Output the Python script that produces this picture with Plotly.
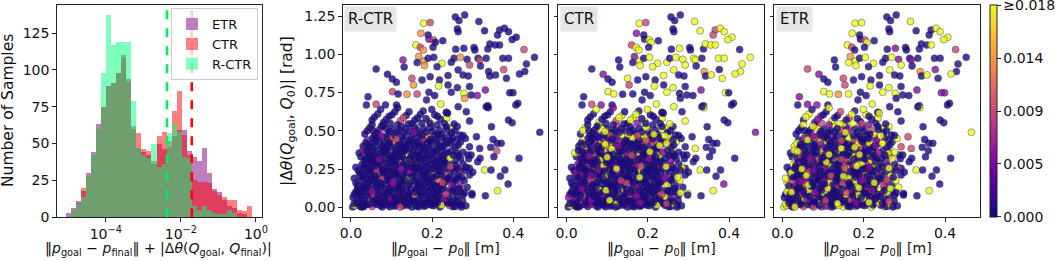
import numpy as np
import plotly.graph_objects as go

# ---------------- histogram data (log10 bins) ----------------
log_bin_lo, log_bin_hi, n_bins = -5.08, -0.10, 37
counts_etr = [3, 6, 11, 18, 30, 44, 63, 75, 89, 91, 98, 110, 94,
              60, 47, 44, 42, 36, 50, 46, 48, 55, 59, 59, 45,
              41, 38, 47, 30, 19, 17, 12, 8, 6, 3, 2, 0]
counts_ctr = [1, 5, 10, 20, 28, 42, 60, 75, 89, 91, 98, 108, 92,
              62, 57, 46, 45, 38, 55, 58, 52, 72, 86, 56, 42,
              25, 24, 24, 23, 18, 15, 14, 12, 12, 5, 4, 8]
counts_rctr = [1, 5, 9, 14, 28, 43, 60, 98, 137, 117, 119, 119, 119,
               79, 47, 42, 40, 50, 34, 36, 57, 63, 58, 41, 40,
               8, 5, 8, 5, 3, 2, 2, 5, 3, 0, 0, 0]
threshold_rctr = 0.00427
threshold_ctr = 0.0195

# ---------------- scatter data: (||p_goal - p0|| [m], |dtheta| [rad]) ----------------
points_upper = [
    (.257, 1.244), (.266, 1.220), (.280, 1.257), (.179, 1.203), (.195, 1.207),
    (.315, 1.214), (.262, 1.166), (.264, 1.148), (.329, 1.153), (.366, 1.159),
    (.378, 1.170), (.388, 1.148), (.361, 1.126), (.407, 1.111), (.397, 1.096),
    (.172, 1.137), (.190, 1.126), (.192, 1.098), (.203, 1.094), (.208, 1.078),
    (.226, 1.089), (.160, 1.061), (.171, 1.046), (.178, 1.028), (.202, 1.046),
    (.258, 1.033), (.278, 1.039), (.303, 1.044), (.305, 1.028), (.337, 1.035),
    (.342, 1.068), (.355, 1.061), (.366, 1.061), (.426, 1.031), (.128, .963),
    (.131, .917), (.062, .904), (.167, .985), (.180, .956), (.181, .926),
    (.163, .946), (.190, .974), (.204, .980), (.224, .941), (.212, .919),
    (.247, .948), (.254, .974), (.269, .980), (.286, .967), (.292, .930),
    (.313, .974), (.317, .963), (.319, .924), (.333, .974), (.374, .974),
    (.388, .974), (.376, .900), (.432, .937), (.452, .980), (.428, .887),
    (.415, .871), (.264, .898), (.276, .865), (.289, .858), (.239, .861),
    (.339, .887), (.342, .858), (.356, .865), (.383, .843), (.090, .869),
    (.102, .839), (.112, .817), (.150, .843), (.154, .800), (.175, .832),
    (.195, .854), (.218, .832), (.216, .793), (.239, .800), (.247, .752),
    (.262, .782), (.278, .745), (.280, .712), (.292, .789), (.296, .734),
    (.311, .730), (.331, .767), (.391, .749), (.399, .749), (.411, .680),
    (.406, .669), (.337, .664), (.042, .723), (.038, .669), (.062, .673),
    (.102, .756), (.116, .741), (.138, .739), (.163, .741), (.192, .752),
    (.206, .730), (.221, .675), (.235, .621), (.186, .702), (.112, .669),
    (.085, .669),
]
points_right = [
    (.465, .490), (.388, .570), (.397, .553), (.346, .527), (.338, .651),
    (.350, .444), (.360, .418), (.370, .418), (.359, .370), (.352, .331),
    (.414, .320), (.344, .392), (.317, .385), (.318, .320), (.312, .298),
    (.329, .244), (.345, .244), (.368, .204), (.379, .244), (.387, .152),
    (.361, .109), (.331, .076), (.292, .396), (.296, .342), (.288, .342),
    (.261, .359), (.292, .255), (.298, .091), (.276, .080), (.271, .015),
    (.251, .004), (.255, .048), (.247, .516), (.235, .581), (.235, .620),
    (.284, .625), (.292, .564), (.268, .473), (.309, .462), (.333, .658),
    (.264, .658),
]
points_dense = [
    # y ~ 0.00-0.06
    (.004, .003), (.010, .012), (.014, .040), (.022, .008), (.028, .030), (.036, .015),
    (.044, .050), (.052, .005), (.058, .028), (.066, .042), (.073, .012), (.081, .020),
    (.089, .048), (.096, .004), (.104, .031), (.112, .016), (.119, .055), (.127, .009),
    (.134, .038), (.142, .022), (.150, .003), (.157, .045), (.165, .018), (.172, .033),
    (.180, .007), (.188, .052), (.195, .026), (.203, .011), (.211, .040), (.219, .002),
    (.226, .029), (.234, .047), (.242, .014), (.249, .036), (.257, .006), (.266, .021),
    (.275, .043), (.283, .010),
    # y ~ 0.06-0.14
    (.008, .085), (.016, .120), (.025, .070), (.031, .135), (.039, .095), (.047, .112),
    (.054, .064), (.061, .128), (.069, .090), (.076, .074), (.084, .118), (.091, .100),
    (.099, .067), (.106, .134), (.114, .082), (.121, .108), (.129, .071), (.137, .125),
    (.144, .093), (.152, .062), (.160, .114), (.167, .086), (.175, .131), (.183, .069),
    (.190, .103), (.198, .124), (.206, .077), (.213, .096), (.221, .138), (.229, .066),
    (.237, .110), (.245, .088), (.253, .127), (.262, .072), (.270, .105), (.286, .132),
    (.298, .080),
    # y ~ 0.14-0.22
    (.012, .160), (.021, .205), (.030, .145), (.038, .185), (.046, .215), (.053, .152),
    (.060, .196), (.068, .170), (.075, .142), (.083, .210), (.090, .178), (.098, .155),
    (.105, .200), (.113, .148), (.120, .188), (.128, .166), (.136, .214), (.143, .150),
    (.151, .192), (.158, .172), (.166, .143), (.173, .207), (.181, .158), (.189, .185),
    (.196, .146), (.204, .218), (.212, .168), (.220, .195), (.228, .151), (.236, .183),
    (.244, .208), (.252, .162), (.261, .190), (.269, .147), (.279, .176), (.292, .212),
    # y ~ 0.22-0.30
    (.018, .240), (.027, .280), (.035, .228), (.043, .262), (.050, .295), (.058, .235),
    (.065, .270), (.072, .248), (.080, .225), (.087, .290), (.095, .255), (.102, .232),
    (.110, .276), (.117, .244), (.125, .298), (.132, .226), (.140, .265), (.147, .286),
    (.155, .238), (.162, .272), (.170, .252), (.177, .228), (.185, .293), (.192, .260),
    (.200, .236), (.208, .279), (.216, .246), (.224, .268), (.232, .230), (.240, .289),
    (.249, .254), (.258, .275), (.268, .241), (.284, .262), (.300, .230),
    # y ~ 0.30-0.38
    (.024, .330), (.033, .310), (.041, .352), (.049, .322), (.056, .375), (.063, .305),
    (.071, .345), (.078, .368), (.086, .318), (.093, .340), (.101, .302), (.108, .362),
    (.116, .330), (.123, .378), (.131, .312), (.138, .348), (.146, .326), (.153, .370),
    (.161, .304), (.168, .338), (.176, .357), (.184, .320), (.191, .376), (.199, .308),
    (.207, .344), (.215, .328), (.223, .365), (.231, .315), (.239, .350), (.248, .372),
    (.256, .305), (.265, .336), (.276, .360), (.290, .318),
    # y ~ 0.38-0.46
    (.030, .400), (.040, .440), (.048, .390), (.057, .425), (.066, .455), (.074, .385),
    (.082, .415), (.090, .448), (.099, .395), (.107, .432), (.115, .405), (.124, .458),
    (.132, .388), (.141, .420), (.149, .445), (.157, .398), (.166, .430), (.174, .410),
    (.183, .452), (.191, .392), (.200, .425), (.209, .440), (.218, .402), (.227, .455),
    (.236, .415), (.246, .436), (.257, .396), (.270, .428), (.282, .450),
    # y ~ 0.46-0.54
    (.034, .480), (.046, .520), (.058, .470), (.069, .505), (.080, .535), (.091, .475),
    (.102, .512), (.113, .490), (.124, .530), (.135, .468), (.146, .500), (.157, .525),
    (.168, .482), (.179, .515), (.190, .465), (.201, .498), (.212, .538), (.224, .478),
    (.236, .508), (.248, .488), (.262, .528), (.276, .470),
    # y ~ 0.54-0.64
    (.052, .570), (.066, .610), (.080, .555), (.094, .595), (.108, .625), (.122, .565),
    (.136, .600), (.150, .548), (.164, .585), (.178, .630), (.192, .560), (.206, .605),
    (.220, .575), (.238, .615), (.254, .545),
]
points_dense2 = [
    # y ~ 0.00-0.06
    (.008, .025), (.018, .050), (.026, .002), (.033, .044), (.040, .022), (.048, .036),
    (.055, .054), (.063, .018), (.070, .032), (.077, .003), (.085, .040), (.093, .027),
    (.100, .052), (.108, .008), (.116, .039), (.123, .024), (.131, .050), (.139, .013),
    (.146, .034), (.154, .056), (.161, .008), (.169, .046), (.177, .024), (.184, .012),
    (.192, .040), (.199, .054), (.208, .023), (.215, .050), (.223, .015), (.238, .028),
    # y ~ 0.06-0.14
    (.005, .065), (.012, .100), (.020, .088), (.028, .110), (.035, .078), (.043, .130),
    (.050, .092), (.057, .080), (.065, .110), (.072, .136), (.080, .062), (.087, .086),
    (.095, .122), (.103, .094), (.110, .070), (.118, .130), (.125, .090), (.133, .104),
    (.140, .068), (.148, .118), (.156, .084), (.163, .136), (.171, .098), (.179, .112),
    (.186, .080), (.194, .064), (.202, .106), (.209, .132), (.217, .072), (.225, .116),
    (.241, .070), (.258, .098),
    # y ~ 0.14-0.22
    (.008, .190), (.016, .142), (.025, .175), (.034, .210), (.042, .160), (.049, .198),
    (.057, .178), (.064, .148), (.071, .218), (.079, .186), (.087, .152), (.094, .200),
    (.102, .170), (.109, .214), (.117, .160), (.124, .146), (.132, .196), (.140, .180),
    (.147, .160), (.155, .212), (.162, .190), (.170, .150), (.178, .176), (.185, .218),
    (.193, .164), (.201, .196), (.208, .144), (.216, .180), (.224, .210), (.232, .168),
    (.248, .148), (.265, .205),
    # y ~ 0.22-0.30
    (.012, .262), (.022, .226), (.031, .255), (.039, .292), (.047, .240), (.054, .278),
    (.062, .226), (.069, .296), (.076, .262), (.084, .238), (.091, .272), (.099, .292),
    (.106, .250), (.114, .228), (.121, .268), (.129, .284), (.136, .242), (.144, .228),
    (.151, .276), (.159, .256), (.166, .298), (.174, .268), (.181, .240), (.189, .226),
    (.196, .282), (.204, .256), (.212, .296), (.220, .236), (.228, .284), (.236, .252),
    (.253, .232), (.276, .284),
    # y ~ 0.30-0.38
    (.020, .355), (.029, .372), (.037, .318), (.045, .340), (.052, .305), (.060, .358),
    (.067, .326), (.075, .304), (.082, .350), (.090, .374), (.097, .322), (.105, .340),
    (.112, .310), (.120, .352), (.127, .334), (.135, .372), (.142, .302), (.150, .345),
    (.157, .316), (.165, .362), (.172, .318), (.180, .374), (.188, .338), (.195, .352),
    (.203, .318), (.211, .372), (.219, .306), (.227, .338), (.244, .322), (.261, .352),
    # y ~ 0.38-0.46
    (.036, .420), (.044, .395), (.053, .452), (.061, .402), (.070, .432), (.078, .458),
    (.086, .392), (.094, .425), (.103, .458), (.111, .382), (.120, .418), (.128, .440),
    (.137, .402), (.145, .386), (.153, .424), (.162, .456), (.170, .390), (.178, .440),
    (.187, .418), (.196, .446), (.205, .384), (.214, .420), (.223, .392), (.232, .436),
    (.251, .455), (.264, .405),
    # y ~ 0.46-0.56
    (.040, .500), (.052, .540), (.064, .488), (.075, .468), (.086, .515), (.097, .548),
    (.108, .470), (.119, .502), (.130, .490), (.141, .545), (.152, .478), (.163, .505),
    (.174, .550), (.185, .492), (.196, .522), (.207, .472), (.218, .505), (.230, .548),
    (.242, .468), (.256, .500),
    # y ~ 0.56-0.66
    (.058, .590), (.073, .640), (.087, .575), (.101, .605), (.115, .650), (.129, .585),
    (.143, .625), (.157, .570), (.171, .608), (.185, .580), (.199, .640), (.213, .595),
]
points_dense3 = [
    (.016, .030), (.031, .004), (.046, .020), (.061, .050), (.079, .036), (.091, .014),
    (.106, .046), (.121, .002), (.136, .026), (.152, .040), (.167, .004), (.182, .030),
    (.197, .016), (.213, .032), (.229, .054), (.246, .024), (.262, .040), (.272, .002),
    (.023, .100), (.037, .122), (.052, .104), (.067, .072), (.082, .096), (.097, .112),
    (.112, .124), (.127, .110), (.142, .082), (.158, .098), (.173, .076), (.188, .128),
    (.204, .090), (.219, .112), (.234, .086), (.250, .108), (.266, .124), (.280, .096),
    (.028, .196), (.044, .170), (.059, .208), (.074, .160), (.089, .194), (.104, .154),
    (.119, .206), (.134, .176), (.150, .204), (.165, .162), (.180, .196), (.195, .176),
    (.210, .206), (.226, .160), (.241, .190), (.257, .178), (.273, .196),
    (.033, .270), (.048, .250), (.063, .284), (.078, .244), (.093, .238), (.108, .296),
    (.123, .252), (.138, .282), (.153, .258), (.168, .236), (.183, .270), (.198, .248),
    (.214, .262), (.229, .296), (.245, .266), (.262, .256), (.280, .240),
    (.038, .366), (.054, .336), (.069, .312), (.085, .362), (.100, .328), (.115, .346),
    (.130, .368), (.145, .314), (.160, .340), (.175, .312), (.190, .346), (.205, .364),
    (.220, .330), (.236, .362), (.252, .340), (.270, .318),
    (.045, .410), (.062, .440), (.078, .402), (.095, .412), (.112, .446), (.128, .400),
    (.145, .436), (.162, .410), (.178, .392), (.195, .432), (.212, .450), (.229, .404),
    (.246, .418), (.262, .442),
    (.055, .500), (.075, .530), (.095, .495), (.115, .540), (.135, .515), (.155, .490),
    (.175, .470), (.195, .548), (.215, .478), (.235, .528),
]

# final-error level of every point, per method (one code per point, in the order above)
# d: ~0.0005, p: ~0.005, m: ~0.009, o: ~0.0135, y: >=0.018
error_levels = {"d": 0.0005, "e": 0.0015, "p": 0.005, "m": 0.009, "o": 0.0135, "y": 0.02}
codes_rctr = (
    # upper (106)
    "dddymddddd" "dddddodpmd" "dymodddddd" "dddmpddooo" "dddydddodm"
    "dmddddmddd" "dddddddddd" "ddmodddydd" "dyoddppddd" "ddddmmdomd" "dyyddd"
    # right (41)
    "ddddddddmd" "dddddydddd" "yddddodddd" "ddyyddddddd"
    # dense
    "dyyddddmdd" "ddddedddpd" "dddpdddddd" "ddmddddd"
    "dddddodddp" "dddddddddd" "dddpdddddd" "dmddddd"
    "dpdddddddd" "ddddddddyd" "dddddddmdd" "dddpdd"
    "dddddddmdd" "pdddoddddd" "ddddydddmd" "ddpdd"
    "dddddddddd" "ddpddyddod" "dddddmdddd" "dddd"
    "dpdddddddo" "ddddddddyd" "dmddddddd"
    "dddpdddddd" "ddddoddddd" "dd"
    "dddddmdddd" "odddd"
    # dense2
    "dddddmdddd" "ddpddddddd" "ddddddddyd"
    "dddddddmdd" "dddddddpdd" "oddddddddd" "dd"
    "dddddddddm" "ddpddddydd" "dddddddodd" "pd"
    "ddddddmddd" "dddddddpdd" "dddddddddd" "dd"
    "dpdddddddd" "ddddddoddd" "dddpddddyd"
    "ddddddddmd" "dddddddpdd" "dddddd"
    "dddpdddddd" "dddddddddd"
    "dddddmdddd" "dd"
    # dense3
    "dddddddmdd" "ddddpddd"
    "ddpddddddd" "ddddmddd"
    "dddddpdddd" "dddmddd"
    "ddddddpddd" "ddddmdd"
    "ddpddddddd" "dddddd"
    "ddddmddddd" "dddd"
    "dddddpdddd"
)
codes_ctr = (
    "dddymyddym" "yymyypddyy" "dmyyddyddd" "yyyddddpyy" "ddyyyydyyy"
    "yyddyydyyy" "yyddyodyyp" "ddymdddydy" "ydddddpydd" "ddddmyyddd" "dyyddp"
    "pdddyddddd" "ddyddydddp" "yddddydydd" "ddyyddydddy"
    "dyydddmddd" "pdddydddpd" "dddddpddmd" "dpdddydd"
    "dpdddmdddd" "ydddddpddd" "ddmdddyddd" "dddpddd"
    "dpdddddmyd" "ddddddpddd" "ydddddmddd" "pdddyd"
    "dpdddddmdd" "dydddpdddm" "dddydddddd" "dpdyd"
    "dpddddmdyd" "ddddddydpd" "ydddmdddyd" "pddd"
    "dyddddydmd" "ydddpdddyd" "dmddpddyd"
    "dyddddddmy" "ddddydddyd" "dd"
    "ddyddmydyd" "ydddy"
    "dpddmddpdd" "dddddydddd" "ddpdddddyd"
    "pdddddmddd" "dpdddddydd" "mdpddddddd" "yd"
    "dddpddmddd" "dyddddddmd" "dpdddddddd" "yd"
    "dpdddmdddd" "ydddpddddd" "dpydddddpd" "dd"
    "ydddddmddy" "dddydddpdd" "mdddpddydd"
    "dyddpddmdy" "dpdddydddy" "dmddyd"
    "ydddydmddd" "ydpdydddyd"
    "dyddpydyyd" "yd"
    "dddpddyddd" "dpdddmdd"
    "dpdddydddd" "pdddmddy"
    "ddpddddmdd" "ydddpdy"
    "dddpddyddd" "mdddydd"
    "dpddydddmd" "dydpdd"
    "dddydpdddm" "dyyd"
    "ddydddmdyd"
)
codes_etr = (
    "dddyyydddd" "yydyyyddmy" "dymdddpddd" "ddymddmoyy" "ydyydddypy"
    "dpddddpddd" "yydddodydp" "ddmmdddydy" "yyddddpppd" "ddpdpyyoyd" "dyyddp"
    "ydddyddddd" "ddmddydddd" "ydmddddddm" "odyyddddmdd"
    "yydpdddmyd" "dddpdyddmd" "ydddmddpdy" "dmdddydd"
    "dydpdddmdy" "dpdddddmyd" "pdyddddddp" "ymdddyd"
    "ydpddmdddy" "dpdydmdddd" "dpyddmdydd" "ddpdyd"
    "dydpdddmdd" "ydpddddmyd" "pdydydddpd" "yddmd"
    "dydpddddmy" "dpddydddmd" "ydpddyddyd" "pdyd"
    "ydpddddmdy" "dpydddyddm" "dddpdyddy"
    "ddydpdddyd" "mdydddpydd" "yd"
    "dydpdydymd" "dydyd"
    "ydddpdyddm" "dydpdddydp" "dmdddydpdy"
    "dydpddmdyd" "pddydmdddd" "ydpdyddmdd" "dy"
    "ydmdddpydd" "ddpdydddmd" "ydyddpdddd" "my"
    "dydpddmydd" "ddpdydddmy" "dpddydmdyd" "dd"
    "dydmddpddy" "dpdddyddmd" "ydpdddyddy"
    "ydpddmdydd" "ddpydydmyd" "dydpdd"
    "dydpymdddy" "dpydddmdyd"
    "ydpdydmdyd" "yd"
    "dydpddmdyd" "dpdyddmd"
    "ydddpdyddm" "dydpddyd"
    "dpydddmdyd" "dpdydmd"
    "dydpdyddmd" "ydpddyd"
    "ydpddydmdd" "yddpdy"
    "dydpddmdyd" "dpyd"
    "dydpdydmdd"
)
panel_names = ["R-CTR", "CTR", "ETR"]
color_max = 0.018
cbar_ticks = [0.0, 0.0045, 0.009, 0.0135, 0.018]
cbar_labels = ["0.000", "0.005", "0.009", "0.014", "≥0.018"]

# ---------------- build figure ----------------
FONT = "DejaVu Sans"
W, H = 1058, 261


def px_x(p):
    return p / W


def px_y(p):
    return 1 - p / H


all_points = points_upper + points_right + points_dense + points_dense2 + points_dense3
sx = [p[0] for p in all_points]
sy = [p[1] for p in all_points]
panel_errors = []
for codes in (codes_rctr, codes_ctr, codes_etr):
    vals = [error_levels[c] for c in codes][:len(all_points)]
    vals += [error_levels["d"]] * (len(all_points) - len(vals))
    panel_errors.append(vals)

fig = go.Figure()

edges = np.linspace(log_bin_lo, log_bin_hi, n_bins + 1)
centers = (edges[:-1] + edges[1:]) / 2
width = edges[1] - edges[0]
for name, counts, col in [("ETR", counts_etr, "#800080"),
                          ("CTR", counts_ctr, "#ff0000"),
                          ("R-CTR", counts_rctr, "#00ff7f")]:
    fig.add_trace(go.Bar(x=centers, y=counts, width=width, name=name,
                         marker=dict(color=col, line=dict(width=0)), opacity=0.5,
                         xaxis="x", yaxis="y", showlegend=True))

axes_x = ["x2", "x3", "x4"]
axes_y = ["y2", "y3", "y4"]
for i in range(3):
    fig.add_trace(go.Scatter(
        x=sx, y=sy, mode="markers", xaxis=axes_x[i], yaxis=axes_y[i], showlegend=False,
        marker=dict(color=panel_errors[i], coloraxis="coloraxis", size=7, opacity=0.8,
                    line=dict(color="#222", width=0.5))))

frame = dict(showline=True, linecolor="#222", linewidth=1, mirror=True, ticks="outside",
             ticklen=3.5, tickwidth=1, tickcolor="#222", showgrid=False, zeroline=False,
             automargin=False, tickfont=dict(family=FONT, size=14, color="#111"))

hist_dom_x = [px_x(56.7), px_x(262.3)]
plot_dom_y = [px_y(217.3), px_y(5)]
doms = [[px_x(342.7), px_x(548.3)], [px_x(558.3), px_x(764.0)], [px_x(774.0), px_x(980.0)]]

layout = dict(
    template="none",
    width=W, height=H, margin=dict(l=0, r=0, t=0, b=0, autoexpand=False),
    paper_bgcolor="white", plot_bgcolor="white", barmode="overlay", bargap=0,
    font=dict(family=FONT, size=14, color="#111"),
    xaxis=dict(domain=hist_dom_x, range=[-5.31, 0.17], tickvals=[-4, -2, 0],
               ticktext=["10<sup>−4</sup>", "10<sup>−2</sup>", "10<sup>0</sup>"], anchor="y", **frame),
    yaxis=dict(domain=plot_dom_y, range=[0, 144], tickvals=[0, 25, 50, 75, 100, 125], anchor="x", **frame),
    legend=dict(x=px_x(258), y=px_y(8), xanchor="right", yanchor="top",
                bgcolor="rgba(255,255,255,0.8)", bordercolor="#ccc", borderwidth=1,
                font=dict(family=FONT, size=13, color="#111"), traceorder="normal",
                itemwidth=30, tracegroupgap=2),
    coloraxis=dict(colorscale="Plasma", cmin=0, cmax=color_max * 1.004,
                   colorbar=dict(x=px_x(990), xanchor="left", y=px_y(216.7), yanchor="bottom",
                                 len=(216.7 - 5) / H, lenmode="fraction", thickness=7.3,
                                 thicknessmode="pixels", xpad=0, ypad=0, outlinewidth=1,
                                 outlinecolor="#222", tickvals=cbar_ticks, ticktext=cbar_labels,
                                 ticks="outside", ticklen=3.5, tickcolor="#222",
                                 ticklabeloverflow="allow",
                                 tickfont=dict(family=FONT, size=14, color="#111"))),
)
for i in range(3):
    ax = dict(domain=doms[i], range=[-0.0204, 0.486], tickvals=[0.0, 0.2, 0.4], tickformat=".1f",
              anchor=axes_y[i], **frame)
    ay = dict(domain=[px_y(217), px_y(5)], range=[-0.063, 1.322],
              tickvals=[0, 0.25, 0.5, 0.75, 1.0, 1.25], tickformat=".2f",
              anchor=axes_x[i], showticklabels=(i == 0), **frame)
    layout["xaxis%d" % (i + 2)] = ax
    layout["yaxis%d" % (i + 2)] = ay
fig.update_layout(**layout)

# threshold lines
for val, col in [(threshold_rctr, "#00ee66"), (threshold_ctr, "#ff0000")]:
    fig.add_shape(type="line", xref="x", yref="y domain", x0=np.log10(val), x1=np.log10(val),
                  y0=0, y1=1, line=dict(color=col, width=2.6, dash="dash"))

label_font = dict(family=FONT, size=15.5, color="#111")
xlabel_font = dict(family=FONT, size=14, color="#111")
ann = []
ann.append(dict(text="Number of Samples", xref="paper", yref="paper", x=px_x(8), y=px_y(111),
                textangle=-90, showarrow=False, font=label_font, xanchor="center", yanchor="middle"))
ann.append(dict(text="‖<i>p</i><sub>goal</sub> − <i>p</i><sub>final</sub>‖ + |Δ<i>θ</i>(<i>Q</i><sub>goal</sub>, <i>Q</i><sub>final</sub>)|",
                xref="paper", yref="paper", x=px_x(158), y=px_y(249), showarrow=False,
                font=xlabel_font, xanchor="center", yanchor="middle"))
ann.append(dict(text="|Δ<i>θ</i>(<i>Q</i><sub>goal</sub>, <i>Q</i><sub>0</sub>)| [rad]",
                xref="paper", yref="paper", x=px_x(288), y=px_y(111), textangle=-90,
                showarrow=False, font=label_font, xanchor="center", yanchor="middle"))
for i in range(3):
    cx = (doms[i][0] + doms[i][1]) / 2
    ann.append(dict(text="‖<i>p</i><sub>goal</sub> − <i>p</i><sub>0</sub>‖ [m]", xref="paper", yref="paper",
                    x=cx, y=px_y(249), showarrow=False, font=xlabel_font,
                    xanchor="center", yanchor="middle"))
    ann.append(dict(text=panel_names[i], xref="paper", yref="paper", x=doms[i][0] + 1.5 / W,
                    y=px_y(6), xanchor="left", yanchor="top", showarrow=False,
                    font=dict(family=FONT, size=15, color="#111"), bgcolor="#e6e6e6",
                    borderpad=3))
fig.update_layout(annotations=ann)

fig.write_html("out.html", config={"displayModeBar": False},
               post_script="document.body.style.margin='0';document.body.style.overflow='hidden';")
